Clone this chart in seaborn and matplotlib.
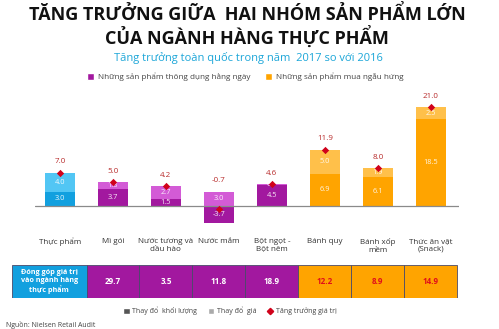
import matplotlib
matplotlib.use("Agg")
import matplotlib.pyplot as plt
import seaborn as sns
import pandas as pd
import numpy as np
from matplotlib.patches import Rectangle, Patch
from matplotlib.lines import Line2D

# ---------------- data ----------------
categories = ["Thực phẩm", "Mì gói", "Nước tương và\ndầu hào", "Nước mắm",
              "Bột ngọt -\nBột nêm", "Bánh quy", "Bánh xốp\nmềm", "Thức ăn vặt\n(Snack)"]
volume_change = [3.0, 3.7, 1.5, -3.7, 4.5, 6.9, 6.1, 18.5]
price_change = [4.0, 1.3, 2.7, 3.0, 0.1, 5.0, 1.9, 2.5]
value_growth = [7.0, 5.0, 4.2, -0.7, 4.6, 11.9, 8.0, 21.0]
groups = ["total", "daily", "daily", "daily", "daily", "impulse", "impulse", "impulse"]
contribution = [29.7, 3.5, 11.8, 18.9, 12.2, 8.9, 14.9]
table_header = "Đóng góp giá trị\nvào ngành hàng\nthực phẩm"

title_1 = "TĂNG TRƯỞNG GIỮA  HAI NHÓM SẢN PHẨM LỚN"
title_2 = "CỦA NGÀNH HÀNG THỰC PHẨM"
subtitle = "Tăng trưởng toàn quốc trong năm  2017 so với 2016"
group_labels = ["Những sản phẩm thông dụng hằng ngày", "Những sản phẩm mua ngẫu hứng"]
legend_labels = ["Thay đổ  khối lượng", "Thay đổ  giá", "Tăng trưởng giá trị"]
source = "Nguồn: Nielsen Retail Audit"

# ---------------- styles ----------------
dark = {"total": "#12A0DF", "daily": "#A2189F", "impulse": "#FFA400"}
light = {"total": "#52C6F4", "daily": "#D35BD6", "impulse": "#FFC04A"}
red = "#D0021B"
label_red = "#B82B2B"

sns.set_theme(style="white")
plt.rcParams["font.family"] = ["Open Sans", "DejaVu Sans"]

fig = plt.figure(figsize=(4.99, 3.29), dpi=100)
W, H = 499, 329

def fx(px):
    return px / W

def fy(py):
    return 1 - py / H

# ---------------- main chart ----------------
ax = fig.add_axes([fx(35), fy(235), fx(424), 135 / H])

df = pd.DataFrame({"cat": categories, "vol": volume_change, "price": price_change,
                   "total": value_growth, "group": groups})
same = np.sign(df["vol"]) == np.sign(df["price"])
df["upper"] = np.where(same, df["vol"] + df["price"], df["price"])
light_pal = [light[g] for g in groups]
dark_pal = [dark[g] for g in groups]

sns.barplot(data=df, x="cat", y="upper", hue="cat", palette=light_pal, width=0.58,
            saturation=1, legend=False, errorbar=None, ax=ax, linewidth=0)
sns.barplot(data=df, x="cat", y="vol", hue="cat", palette=dark_pal, width=0.58,
            saturation=1, legend=False, errorbar=None, ax=ax, linewidth=0)

ax.axhline(0, color="#8a8a8a", lw=0.9, zorder=1)

# segment labels
for i, r in df.iterrows():
    ax.text(i, r["vol"] / 2, f"{r['vol']:.1f}", ha="center", va="center",
            color="white", fontsize=5.3, alpha=0.9, zorder=4)
    pc = r["vol"] + r["price"] / 2 if same[i] else r["price"] / 2
    ax.text(i, pc, f"{r['price']:.1f}", ha="center", va="center",
            color="white", fontsize=5.3, alpha=0.9, zorder=4)

sns.scatterplot(x=np.arange(len(categories)), y=value_growth, marker="D", s=14,
                color=red, edgecolor=red, linewidth=0, zorder=6, ax=ax, legend=False)

for i, r in df.iterrows():
    top = max(r["upper"], r["vol"], r["total"], 0)
    ax.annotate(f"{r['total']:.1f}", (i, top), xytext=(0, 8), textcoords="offset points",
                ha="center", va="center", fontsize=5.8, color=label_red)

ax.set_xlim(-0.47, 7.53)
ax.set_ylim(-6.17, 22.55)
ax.set_yticks([])
ax.set_xlabel("")
ax.set_ylabel("")
ax.set_xticks(range(len(categories)))
ax.set_xticklabels(categories, fontsize=5.8, color="#333333", linespacing=1.15)
ax.tick_params(axis="x", length=0, pad=2)
for s in ax.spines.values():
    s.set_visible(False)
ax.set_facecolor("none")

# ---------------- table ----------------
tax = fig.add_axes([fx(12), fy(298), fx(447), 33 / H])
tax.set_xlim(-0.906, 7.53)
tax.set_ylim(0, 1)
tax.axis("off")
tax.add_patch(Rectangle((-0.906, 0), 1.406, 1, facecolor=dark["total"],
                        edgecolor="#4a4a6a", lw=0.6))
tax.text((-0.906 + 0.5) / 2, 0.5, table_header, ha="center", va="center",
         color="white", fontsize=5.2, weight="bold", linespacing=1.1)
for k, v in enumerate(contribution):
    i = k + 1
    g = groups[i]
    right = min(i + 0.5, 7.53)
    tax.add_patch(Rectangle((i - 0.5, 0), right - (i - 0.5), 1, facecolor=dark[g],
                            edgecolor="#4a4a6a", lw=0.6))
    tax.text(i, 0.5, f"{v:.1f}", ha="center", va="center", fontsize=5.8, weight="bold",
             color="white" if g == "daily" else "#E0101A")

# ---------------- texts ----------------
fig.text(fx(247), fy(20.5), title_1, ha="center", va="baseline", fontsize=13.0,
         weight="bold", color="#111111")
fig.text(fx(247), fy(43.5), title_2, ha="center", va="baseline", fontsize=13.0,
         weight="bold", color="#111111")
fig.text(fx(248), fy(60.5), subtitle, ha="center", va="baseline", fontsize=8.0,
         color="#1CA6D8")

top_handles = [Patch(facecolor=dark["daily"]), Patch(facecolor=dark["impulse"])]
fig.legend(top_handles, group_labels, loc="center left", bbox_to_anchor=(fx(83), fy(77)),
           ncol=2, frameon=False, fontsize=5.9, handlelength=0.9, handleheight=0.9,
           handletextpad=0.4, columnspacing=1.8, borderpad=0, labelcolor="#444444")

bot_handles = [Patch(facecolor="#555555"), Patch(facecolor="#AAAAAA"),
               Line2D([], [], marker="D", color=red, lw=0, markersize=3.2)]
fig.legend(bot_handles, legend_labels, loc="center left", bbox_to_anchor=(fx(120), fy(311)),
           ncol=3, frameon=False, fontsize=5.0, handlelength=0.9, handleheight=0.9,
           handletextpad=0.4, columnspacing=1.5, borderpad=0, labelcolor="#444444")

fig.text(fx(6), fy(325), source, ha="left", va="center", fontsize=5.0, color="#444444")

fig.savefig("out.png", dpi=100)
